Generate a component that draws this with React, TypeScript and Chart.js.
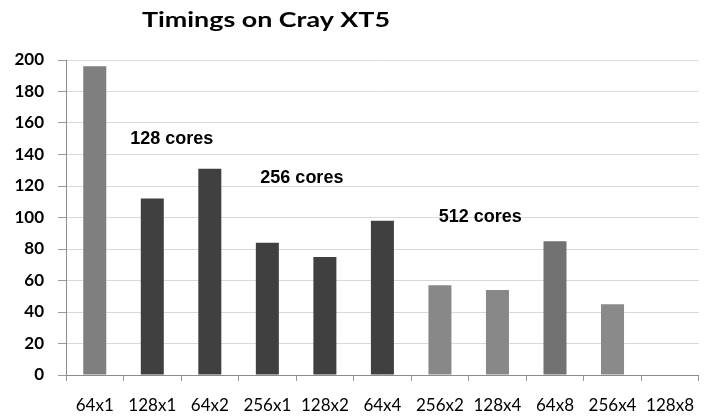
import React, { useEffect, useRef } from "react";
import { Chart, registerables } from "chart.js";

Chart.register(...registerables);

const categories = ["64x1", "128x1", "64x2", "256x1", "128x2", "64x4", "256x2", "128x4", "64x8", "256x4", "128x8"];
const timings = [196, 112, 131, 84, 75, 98, 57, 54, 85, 45, 0];
const barColors = ["#7f7f7f", "#404040", "#404040", "#404040", "#404040", "#404040", "#888888", "#888888", "#727272", "#8a8a8a", "#8a8a8a"];
const yTicks = { min: 0, max: 200, step: 20 };
const titleText = "Timings on Cray XT5";
const groupLabels = ["128 cores", "256 cores", "512 cores"];
const groupLabelX = [1.34, 3.6, 6.7];
const groupLabelY = [150, 125, 100];

const overlayPlugin = {
  id: "overlay",
  afterDraw(chart: any) {
    const ctx = chart.ctx;
    const xs = chart.scales.x;
    const ys = chart.scales.y;
    ctx.save();
    ctx.fillStyle = "#000";
    ctx.textAlign = "center";
    ctx.textBaseline = "alphabetic";
    ctx.font = "bold 21px Lato";
    const w = ctx.measureText(titleText).width;
    const sx = 248 / w;
    ctx.save();
    ctx.translate(266, 27);
    ctx.scale(sx, 1);
    ctx.fillText(titleText, 0, 0);
    ctx.restore();
    ctx.font = "bold 18px 'Liberation Sans'";
    ctx.textBaseline = "middle";
    groupLabels.forEach((t, i) => {
      ctx.fillText(t, xs.getPixelForValue(groupLabelX[i]), ys.getPixelForValue(groupLabelY[i]));
    });
    ctx.restore();
  },
};

export default function App() {
  const ref = useRef<HTMLCanvasElement>(null);
  useEffect(() => {
    if (!ref.current) return;
    const chart = new Chart(ref.current, {
      type: "bar",
      data: {
        labels: categories,
        datasets: [
          {
            data: timings,
            backgroundColor: barColors,
            barPercentage: 0.4,
            categoryPercentage: 1,
          },
        ],
      },
      options: {
        animation: false,
        responsive: false,
        layout: { padding: { top: 60, left: 0, right: 0, bottom: 0 } },
        plugins: { legend: { display: false }, tooltip: { enabled: false }, title: { display: false } },
        scales: {
          x: {
            afterFit: (s: any) => { s.height = 41; },
            grid: { offset: true, drawOnChartArea: false, tickLength: 6, tickColor: "#999", color: "#999" },
            border: { color: "#8c8c8c", width: 1 },
            ticks: { font: { family: "Lato", size: 17 }, color: "#000", padding: 14, maxRotation: 0, autoSkip: false },
          },
          y: {
            min: yTicks.min,
            max: yTicks.max,
            afterFit: (s: any) => { s.width = 66; },
            grid: { color: "#d9d9d9", tickLength: 8, tickColor: "#999", lineWidth: 1 },
            border: { color: "#8c8c8c", width: 1 },
            ticks: { stepSize: yTicks.step, font: { family: "Lato", size: 17, weight: "bold" }, color: "#000", padding: 14 },
          },
        },
      },
      plugins: [overlayPlugin],
    });
    return () => chart.destroy();
  }, []);
  return (
    <div style={{ position: "fixed", left: 0, top: 0, width: 704, height: 416, overflow: "hidden", background: "#fff" }}>
      <canvas ref={ref} width={708} height={416} style={{ width: 708, height: 416, display: "block" }} />
    </div>
  );
}
